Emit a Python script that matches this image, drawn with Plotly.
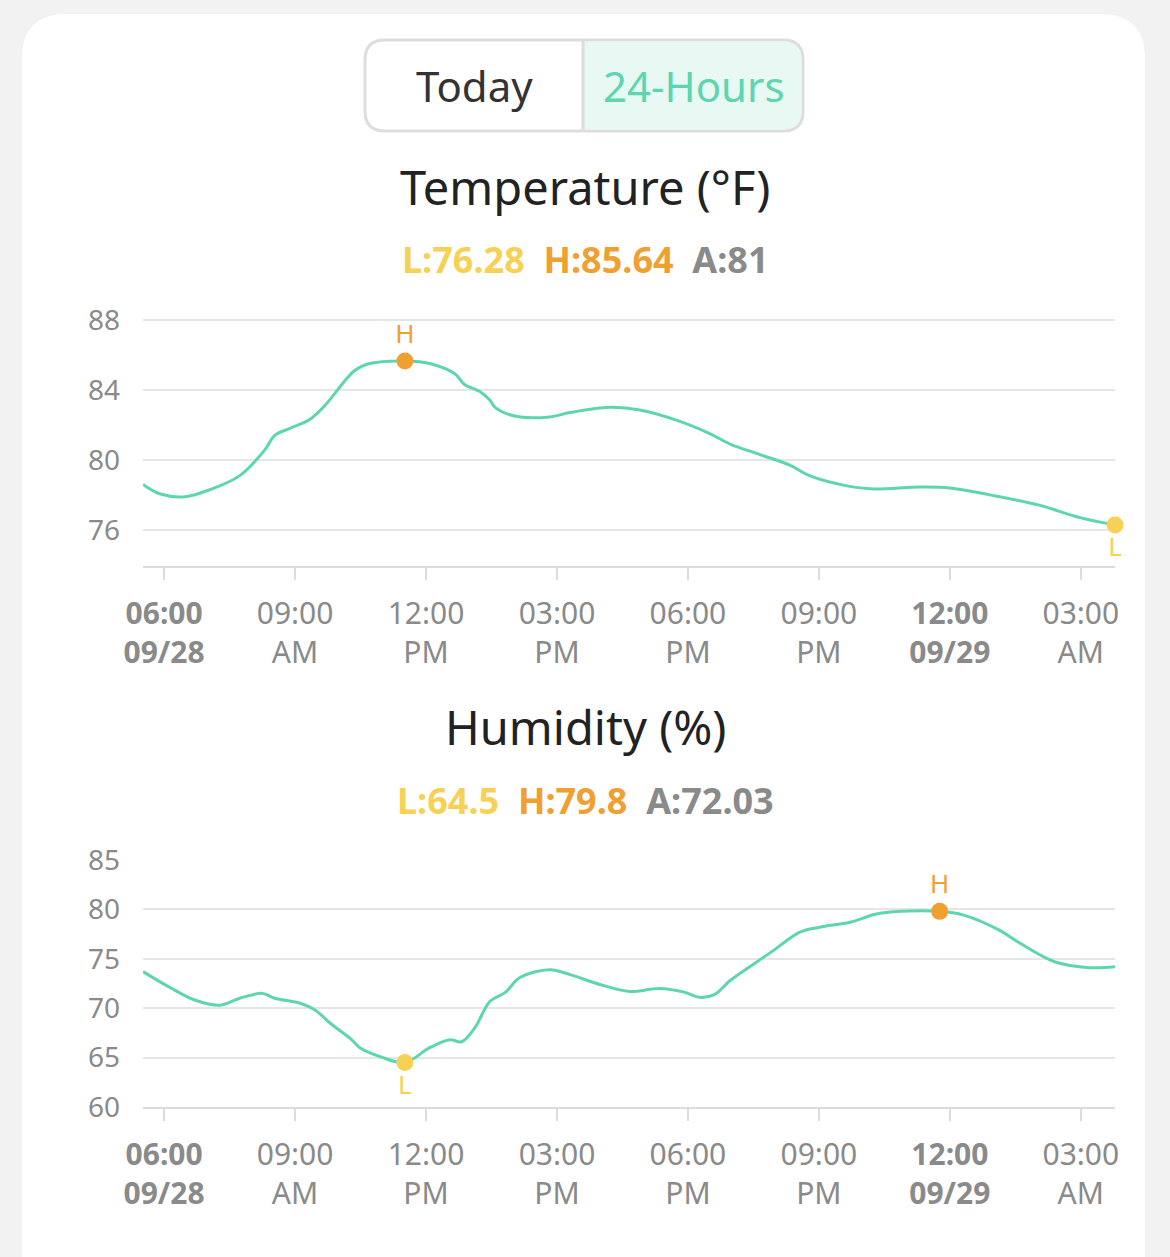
import plotly.graph_objects as go

W, H = 1170, 1257

temp_times = ["05:31", "05:55", "06:29", "07:03", "07:44", "08:19", "08:32", "08:53", "09:20", "09:41",
              "10:22", "10:43", "11:31", "12:05", "12:40", "12:53", "13:14", "13:28", "13:35", "14:02",
              "14:50", "15:18", "16:13", "16:54", "17:49", "18:30", "18:58", "19:39", "20:20", "20:47",
              "21:29", "22:10", "23:19", "00:00", "00:55", "02:04", "02:59", "03:47"]
temp_vals = [78.6, 78.05, 77.9, 78.3, 79.1, 80.6, 81.4, 81.8, 82.3, 83.1,
             85.1, 85.5, 85.64, 85.5, 84.9, 84.3, 83.9, 83.4, 83.0, 82.5,
             82.45, 82.7, 83.0, 82.85, 82.2, 81.5, 80.9, 80.3, 79.7, 79.1,
             78.6, 78.35, 78.45, 78.4, 78.0, 77.4, 76.7, 76.28]

hum_times = ["05:31", "06:08", "06:43", "07:17", "07:44", "08:15", "08:32", "09:07", "09:28", "09:48",
             "10:18", "10:29", "10:57", "11:31", "12:05", "12:33", "12:49", "13:07", "13:28", "13:49",
             "14:09", "14:50", "15:18", "15:59", "16:40", "17:21", "17:56", "18:16", "18:37", "18:58",
             "19:53", "20:34", "21:01", "21:43", "22:24", "23:46", "00:20", "01:08", "01:36", "02:24",
             "03:12", "03:47"]
hum_vals = [73.7, 72.1, 70.8, 70.3, 71.0, 71.5, 71.0, 70.5, 69.8, 68.5,
            66.8, 66.0, 65.1, 64.5, 66.0, 66.8, 66.6, 68.0, 70.7, 71.6,
            73.1, 73.9, 73.4, 72.4, 71.7, 72.0, 71.6, 71.1, 71.4, 72.8,
            75.6, 77.7, 78.2, 78.7, 79.6, 79.8, 79.4, 77.9, 76.6, 74.7,
            74.1, 74.2]

tick_times = ["2023-09-28 06:00", "2023-09-28 09:00", "2023-09-28 12:00", "2023-09-28 15:00",
              "2023-09-28 18:00", "2023-09-28 21:00", "2023-09-29 00:00", "2023-09-29 03:00"]
tick_text = ["<b>06:00</b><br><b>09/28</b>", "09:00<br>AM", "12:00<br>PM", "03:00<br>PM",
             "06:00<br>PM", "09:00<br>PM", "<b>12:00</b><br><b>09/29</b>", "03:00<br>AM"]

TEAL, YEL, ORG, GREY = "#5dd6b0", "#f7d155", "#f0a030", "#8a8a8a"


def to_dt(times):
    out = []
    for t in times:
        day = "2023-09-29" if int(t[:2]) < 5 else "2023-09-28"
        out.append(f"{day} {t}")
    return out


def px(x):
    return x / W


def py(y):
    return 1 - y / H


def rrect(x0, y0, x1, y1, r):
    return (f"M{px(x0 + r)},{py(y0)} L{px(x1 - r)},{py(y0)} Q{px(x1)},{py(y0)} {px(x1)},{py(y0 + r)} "
            f"L{px(x1)},{py(y1 - r)} Q{px(x1)},{py(y1)} {px(x1 - r)},{py(y1)} "
            f"L{px(x0 + r)},{py(y1)} Q{px(x0)},{py(y1)} {px(x0)},{py(y1 - r)} "
            f"L{px(x0)},{py(y0 + r)} Q{px(x0)},{py(y0)} {px(x0 + r)},{py(y0)} Z")


fig = go.Figure()

for i, (times, vals) in enumerate([(temp_times, temp_vals), (hum_times, hum_vals)]):
    ax = "" if i == 0 else "2"
    xs = to_dt(times)
    fig.add_trace(go.Scatter(x=xs, y=vals, mode="lines", line=dict(color=TEAL, width=3, shape="spline"),
                             xaxis="x" + ax, yaxis="y" + ax, hoverinfo="skip", showlegend=False))
    hi = vals.index(max(vals))
    lo = vals.index(min(vals))
    fig.add_trace(go.Scatter(x=[xs[hi]], y=[vals[hi]], mode="markers+text", text=["H"],
                             textposition="top center", textfont=dict(color=ORG, size=26),
                             marker=dict(color=ORG, size=17), xaxis="x" + ax, yaxis="y" + ax,
                             showlegend=False, cliponaxis=False))
    fig.add_trace(go.Scatter(x=[xs[lo]], y=[vals[lo]], mode="markers+text", text=["L"],
                             textposition="bottom center", textfont=dict(color=YEL, size=26),
                             marker=dict(color=YEL, size=17), xaxis="x" + ax, yaxis="y" + ax,
                             showlegend=False, cliponaxis=False))

xcommon = dict(type="date", range=["2023-09-28 05:31", "2023-09-29 03:47"], tickvals=tick_times,
               ticktext=tick_text, ticks="outside", ticklen=12, tickwidth=2, tickcolor="#dcdcdc",
               showgrid=False, showline=True, linecolor="#dcdcdc", linewidth=2, automargin=False,
               tickfont=dict(size=30, color=GREY, family="Noto Sans"), domain=[px(143), px(1115)],
               fixedrange=True, ticklabelstandoff=8)
ycommon = dict(showgrid=True, gridcolor="#e6e6e6", gridwidth=2, zeroline=False, ticks="", automargin=False,
               tickfont=dict(size=28, color=GREY, family="Noto Sans"), fixedrange=True, ticklabelstandoff=22)

fig.update_layout(
    width=W, height=H, margin=dict(l=0, r=0, t=0, b=0, pad=0), paper_bgcolor="#f2f2f2", plot_bgcolor="white",
    font=dict(family="Noto Sans"),
    xaxis=dict(xcommon, anchor="y"),
    yaxis=dict(ycommon, range=[73.94, 88.1], tickvals=[76, 80, 84, 88], domain=[py(566), py(318)], anchor="x"),
    xaxis2=dict(xcommon, anchor="y2"),
    yaxis2=dict(ycommon, range=[60, 85.1], tickvals=[60, 65, 70, 75, 80, 85], domain=[py(1107), py(859)], anchor="x2"),
    shapes=[
        dict(type="path", path=rrect(22, 14, 1145, 1300, 45), fillcolor="white", line=dict(width=0), layer="below"),
        dict(type="path", path=rrect(365, 40, 803, 131, 20), fillcolor="white", line=dict(color="#dddddd", width=3)),
        dict(type="path", path=(f"M{px(584)},{py(41.5)} L{px(783)},{py(41.5)} Q{px(801.5)},{py(41.5)} {px(801.5)},{py(60)} "
                                f"L{px(801.5)},{py(111)} Q{px(801.5)},{py(129.5)} {px(783)},{py(129.5)} L{px(584)},{py(129.5)} Z"),
             fillcolor="#e8f8f3", line=dict(width=0)),
        dict(type="line", x0=px(583), x1=px(583), y0=py(40), y1=py(131), line=dict(color="#dddddd", width=3)),
    ],
    annotations=[
        dict(x=px(474), y=py(86), text="Today", font=dict(size=42, color="#333")),
        dict(x=px(694), y=py(86), text="24-Hours", font=dict(size=42, color=TEAL)),
        dict(x=0.5, y=py(187), text="Temperature (°F)", font=dict(size=47, color="#222")),
        dict(x=0.5, y=py(260), text=(f"<b><span style='color:{YEL}'>L:76.28</span>  "
                                     f"<span style='color:{ORG}'>H:85.64</span>  "
                                     f"<span style='color:{GREY}'>A:81</span></b>"), font=dict(size=36)),
        dict(x=0.5, y=py(727), text="Humidity (%)", font=dict(size=47, color="#222")),
        dict(x=0.5, y=py(800), text=(f"<b><span style='color:{YEL}'>L:64.5</span>  "
                                     f"<span style='color:{ORG}'>H:79.8</span>  "
                                     f"<span style='color:{GREY}'>A:72.03</span></b>"), font=dict(size=36)),
    ],
)
for s in fig.layout.shapes:
    s.update(xref="paper", yref="paper")
for a in fig.layout.annotations:
    a.update(xref="paper", yref="paper", showarrow=False, xanchor="center", yanchor="middle")

fig.write_html("out.html", config={"displayModeBar": False},
               post_script="document.body.style.margin='0';document.body.style.overflow='hidden';")
